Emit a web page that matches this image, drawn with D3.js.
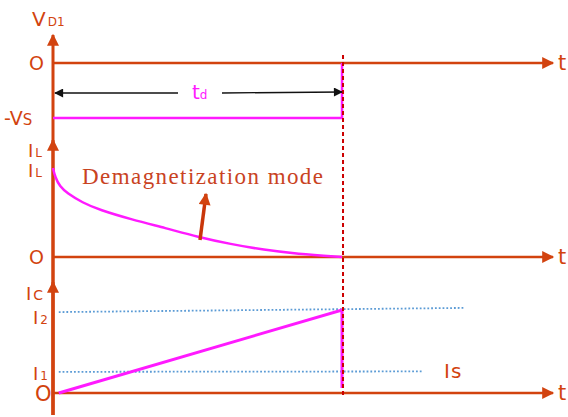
<!DOCTYPE html>
<html>
<head>
<meta charset="utf-8">
<script src="https://cdn.jsdelivr.net/npm/d3@7"></script>
<style>
  body { margin: 0; background: #fff; }
  text { font-family: "DejaVu Sans", Verdana, sans-serif; }
</style>
</head>
<body>
<div id="chart"></div>
<script>
// time runs from 0 to the end of demagnetization td = 1
var tdTime = 1;
var axisEnd = 1.73;

// VD1 panel: diode voltage during td (in units of Vs)
var vdTimes = [0, 1, 1];
var vdValues = [-1, -1, 0];

// IL panel: inductor current decaying to zero (in units of IL peak)
var ilTimes = [0, 0.007, 0.024, 0.048, 0.102, 0.16, 0.273, 0.389, 0.502, 0.614, 0.73, 0.843, 1.0];
var ilValues = [1.0, 0.90, 0.79, 0.72, 0.61, 0.53, 0.42, 0.325, 0.225, 0.145, 0.08, 0.036, 0];

// Ic panel: collector current ramp (in units of I2)
var icTimes = [0.02, 1, 1];
var icValues = [0, 1, 0.06];

// dotted reference levels [startTime, endTime, startValue, endValue]
var i2Level = [0.02, 1.42, 0.975, 1.025];
var i1Level = [0.02, 1.28, 0.255, 0.26];

var orange = "#d2430f";
var magenta = "#ff1aff";

var svg = d3.select("#chart").append("svg")
    .attr("width", 568)
    .attr("height", 417);

var defs = svg.append("defs");
function marker(id, color, w, h) {
    defs.append("marker")
        .attr("id", id)
        .attr("viewBox", "0 0 10 10")
        .attr("refX", 9).attr("refY", 5)
        .attr("markerUnits", "userSpaceOnUse")
        .attr("markerWidth", w).attr("markerHeight", h)
        .attr("orient", "auto-start-reverse")
        .append("path")
        .attr("d", "M0,0 L10,5 L0,10 Z")
        .attr("fill", color);
}
marker("arrOrange", orange, 14, 12);
marker("arrBlack", "#111", 11, 9);

var x = d3.scaleLinear().domain([0, axisEnd]).range([53, 553]);
var yV = d3.scaleLinear().domain([-1, 0]).range([118, 63]);
var yL = d3.scaleLinear().domain([0, 1]).range([257, 168]);
var yC = d3.scaleLinear().domain([0, 1]).range([393, 310]);

// vertical axis (one line, three arrow heads)
var axisX = x(0);
[[415, 35], [415, 140], [415, 282]].forEach(function (seg) {
    svg.append("line")
        .attr("x1", axisX).attr("x2", axisX)
        .attr("y1", seg[0]).attr("y2", seg[1])
        .attr("stroke", orange).attr("stroke-width", 3)
        .attr("marker-end", "url(#arrOrange)");
});

// horizontal time axes
[yV(0), yL(0), yC(0)].forEach(function (yy) {
    svg.append("line")
        .attr("x1", axisX).attr("x2", x(axisEnd))
        .attr("y1", yy).attr("y2", yy)
        .attr("stroke", orange).attr("stroke-width", 2.5)
        .attr("marker-end", "url(#arrOrange)");
    svg.append("text")
        .attr("x", x(axisEnd) + 5).attr("y", yy + 7)
        .attr("fill", orange).attr("font-size", 21)
        .text("t");
});

// dotted levels
function levelLine(lv) {
    svg.append("line")
        .attr("x1", x(lv[0])).attr("x2", x(lv[1]))
        .attr("y1", yC(lv[2])).attr("y2", yC(lv[3]))
        .attr("stroke", "#5b9bd5").attr("stroke-width", 1.8)
        .attr("stroke-dasharray", "1.8,2");
}
levelLine(i2Level);
levelLine(i1Level);

// signal curves
var vdLine = d3.line().x(function (d) { return x(d[0]); }).y(function (d) { return yV(d[1]); });
svg.append("path")
    .attr("d", vdLine(d3.zip(vdTimes, vdValues)))
    .attr("fill", "none").attr("stroke", magenta).attr("stroke-width", 2.5);

var ilLine = d3.line().curve(d3.curveBasis)
    .x(function (d) { return x(d[0]); }).y(function (d) { return yL(d[1]); });
svg.append("path")
    .attr("d", ilLine(d3.zip(ilTimes, ilValues)))
    .attr("fill", "none").attr("stroke", magenta).attr("stroke-width", 2.5);

var icLine = d3.line().x(function (d) { return x(d[0]); }).y(function (d) { return yC(d[1]); });
svg.append("path")
    .attr("d", icLine(d3.zip(icTimes, icValues)))
    .attr("fill", "none").attr("stroke", magenta).attr("stroke-width", 3);

// dashed td marker
svg.append("line")
    .attr("x1", x(tdTime) + 1).attr("x2", x(tdTime) + 1)
    .attr("y1", 55).attr("y2", 398)
    .attr("stroke", "#cc0000").attr("stroke-width", 2)
    .attr("stroke-dasharray", "4,3");

// td dimension arrow
var tdY = 93;
svg.append("line")
    .attr("x1", 178).attr("x2", axisX + 2)
    .attr("y1", tdY).attr("y2", tdY)
    .attr("stroke", "#111").attr("stroke-width", 1.3)
    .attr("marker-end", "url(#arrBlack)");
svg.append("line")
    .attr("x1", 222).attr("x2", x(tdTime))
    .attr("y1", tdY).attr("y2", tdY - 1)
    .attr("stroke", "#111").attr("stroke-width", 1.3)
    .attr("marker-end", "url(#arrBlack)");
var tdText = svg.append("text").attr("x", 192).attr("y", tdY + 6)
    .attr("fill", magenta).attr("font-size", 20);
tdText.append("tspan").text("t");
tdText.append("tspan").attr("font-size", 12).text("d");

// axis labels
function label(xx, yy, main, sub, size, subSize) {
    var t = svg.append("text").attr("x", xx).attr("y", yy)
        .attr("fill", orange).attr("font-size", size);
    t.append("tspan").text(main);
    if (sub) t.append("tspan").attr("font-size", subSize).attr("dx", 2).text(sub);
    return t;
}
label(32, 26, "V", "D1", 20, 12);
label(29, 70, "O", null, 19);
label(4, 125, "-V", "S", 19, 15).select("tspan:last-child").attr("dx", 0);
label(28, 157, "I", "L", 18, 12);
label(28, 177, "I", "L", 18, 12);
label(29, 264, "O", null, 19);
label(26, 300, "I", "C", 18, 14);
label(33, 324, "I", "2", 18, 12);
label(33, 380, "I", "1", 18, 12);
label(35, 401, "O", null, 21);
label(444, 378, "I", "s", 20, 20).select("tspan:last-child").attr("dx", 1);

// annotation
svg.append("text")
    .attr("x", 82).attr("y", 184)
    .attr("fill", "#c9431f")
    .attr("font-size", 23)
    .attr("textLength", 241)
    .attr("lengthAdjust", "spacing")
    .style("font-family", "'Liberation Serif', 'DejaVu Serif', serif")
    .text("Demagnetization mode");

svg.append("line")
    .attr("x1", 200).attr("y1", 240)
    .attr("x2", 206).attr("y2", 194)
    .attr("stroke", "#c9360a").attr("stroke-width", 3.5)
    .attr("marker-end", "url(#arrOrange)");
</script>
</body>
</html>
